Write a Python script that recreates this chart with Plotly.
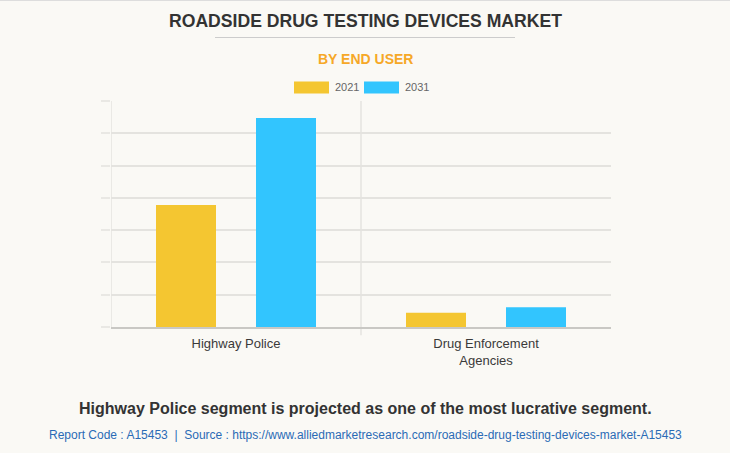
import plotly.graph_objects as go

categories = ["Highway Police", "Drug Enforcement<br>Agencies"]
series_names = ["2021", "2031"]
values_2021 = [3.78, 0.44]
values_2031 = [6.47, 0.61]
colors = ["#F4C631", "#32C5FE"]

title = "ROADSIDE DRUG TESTING DEVICES MARKET"
subtitle = "BY END USER"
footer = "Highway Police segment is projected as one of the most lucrative segment."
source = "Report Code : A15453  |  Source : https://www.alliedmarketresearch.com/roadside-drug-testing-devices-market-A15453"

FONT = "Liberation Sans, Arial, sans-serif"
BG = "#FAF9F5"
GRID = "#E4E3DF"

fig = go.Figure()
for name, vals, col in zip(series_names, [values_2021, values_2031], colors):
    fig.add_trace(go.Bar(x=categories, y=vals, name=name, marker=dict(color=col, line=dict(width=0)),
                         showlegend=False, hoverinfo="x+y+name"))

W, H = 730, 453
ml, mr, mt, mb = 111, 119, 100, 126
y_top = 7.031

fig.update_layout(
    width=W, height=H,
    margin=dict(l=ml, r=mr, t=mt, b=mb),
    paper_bgcolor=BG, plot_bgcolor=BG,
    barmode="group", bargap=0.2, bargroupgap=0.4,
    font=dict(family=FONT, color="#444444", size=12),
    xaxis=dict(range=[-0.5, 1.5], showgrid=False, zeroline=False, showline=True,
               linecolor="#C9C8C4", linewidth=1.5, ticks="", ticklabelstandoff=4,
               tickfont=dict(size=13, color="#3a3a3a")),
    yaxis=dict(range=[0, y_top], dtick=1, showgrid=True, gridcolor=GRID, gridwidth=1.5,
               zeroline=False, showline=False,
               ticks="outside", ticklen=9, tickcolor="#E9E8E4", tickwidth=1.5, showticklabels=False),
)

shapes = []
pw = W - ml - mr
ph = H - mt - mb
def px_x(x):
    return (x - ml) / pw
def px_y(y):
    return 1 - (y - mt) / ph
# left axis line and category boundary line
for xb, ybot in [(-0.5, 0), (0.5, -0.036)]:
    shapes.append(dict(type="line", xref="x", yref="paper", x0=xb, x1=xb, y0=ybot, y1=px_y(101),
                       line=dict(color="#EAE9E5", width=2), layer="below"))
# top border
shapes.append(dict(type="line", xref="paper", yref="paper", x0=px_x(0), x1=px_x(W),
                   y0=px_y(0.5), y1=px_y(0.5), line=dict(color="#DDDDDD", width=1)))
# title underline
shapes.append(dict(type="line", xref="paper", yref="paper", x0=px_x(215), x1=px_x(515),
                   y0=px_y(37.5), y1=px_y(37.5), line=dict(color="#CCCCCC", width=1)))

annotations = [
    dict(text=f"<b>{title}</b>", x=px_x(365), y=px_y(21), xref="paper", yref="paper",
         showarrow=False, font=dict(size=17.6, color="#333333", family=FONT), xanchor="center", yanchor="middle"),
    dict(text=f"<b>{subtitle}</b>", x=px_x(365), y=px_y(59), xref="paper", yref="paper",
         showarrow=False, font=dict(size=14, color="#F6A827", family=FONT), xanchor="center", yanchor="middle"),
    dict(text=f"<b>{footer}</b>", x=px_x(365), y=px_y(408), xref="paper", yref="paper",
         showarrow=False, font=dict(size=16, color="#333333", family=FONT), xanchor="center", yanchor="middle"),
    dict(text=source, x=px_x(365), y=px_y(435), xref="paper", yref="paper",
         showarrow=False, font=dict(size=12, color="#2A6BB5", family=FONT), xanchor="center", yanchor="middle"),
]

# custom legend
leg_x = [294, 364]
for name, col, lx in zip(series_names, colors, leg_x):
    shapes.append(dict(type="rect", xref="paper", yref="paper", x0=px_x(lx), x1=px_x(lx + 35),
                       y0=px_y(93.5), y1=px_y(81.5), fillcolor=col, line=dict(width=0)))
    annotations.append(dict(text=name, x=px_x(lx + 39), y=px_y(87.5), xref="paper", yref="paper",
                            showarrow=False, xanchor="left", yanchor="middle",
                            font=dict(size=11, color="#666666", family=FONT)))

fig.update_layout(shapes=shapes, annotations=annotations)
fig.write_html("out.html")
